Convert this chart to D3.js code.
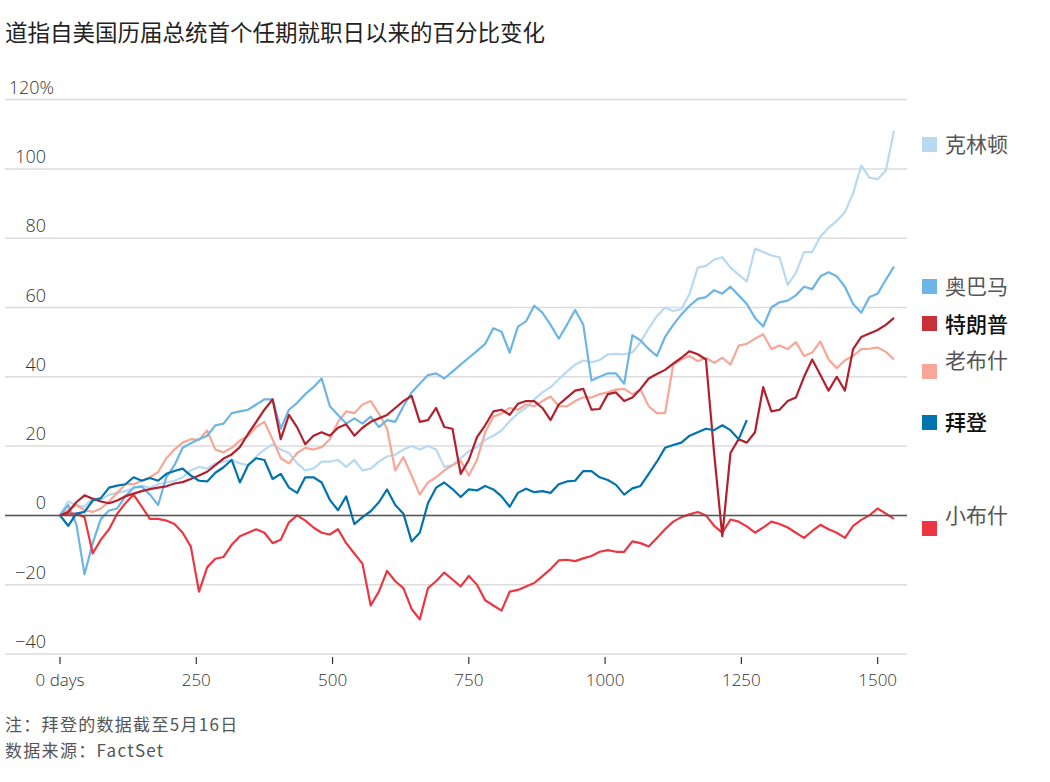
<!DOCTYPE html>
<html>
<head>
<meta charset="utf-8">
<script src="https://cdn.jsdelivr.net/npm/d3@7"></script>
<style>
  body { margin: 0; background: #fff; }
  #viz { width: 1050px; height: 782px; }
  text { font-family: "Open Sans", "Noto Sans CJK SC", sans-serif; }
  .cjk { font-family: "Noto Sans CJK SC", sans-serif; }
</style>
</head>
<body>
<div id="viz"></div>
<script>
// days since inauguration, sampled every 15 days
var days = d3.range(0, 1531, 15);

var yTicks = [-40, -20, 0, 20, 40, 60, 80, 100, 120];
var xTicks = [0, 250, 500, 750, 1000, 1250, 1500];

var clinton = [0, 4, 3, 2.5, 5, 4.5, 6, 6.5, 7, 8,
  8.5, 8, 9, 9.5, 10, 11, 13, 14, 13.5, 15,
  15.5, 16, 15, 14.5, 17, 19, 20.5, 19, 18, 15,
  13, 13.5, 15.5, 15.5, 16, 14, 16, 13, 13.5, 15.5,
  17, 17.5, 19, 20, 19, 20, 19, 14, 14.5, 16.5,
  18.5, 19.7, 21.8, 23, 24.5, 27.2, 29.5, 31, 33.5, 35.5,
  37, 39.3, 41.5, 43.5, 44.7, 44.2, 44.8, 46.5, 46.6, 46.5,
  47, 50, 54, 57.5, 60, 59, 59.5, 64, 71.5, 72,
  73.8, 74.5, 71.5, 69.5, 67.5, 77, 76, 75, 74.5, 66.5,
  70, 76, 76, 80.5, 83, 85, 87.5, 93, 101, 97.5,
  97, 99.5, 111];

var obama = [0, 3, -2.5, -17, -8, -1, 1.4, 2, 5.5, 8,
  8.3, 6, 3, 11, 14.5, 19.5, 20.8, 22, 23, 26,
  26.5, 29.5, 30, 30.5, 32, 33.5, 33.5, 25, 30.5, 32.5,
  35, 37, 39.5, 31.5, 29, 26.5, 28, 26.5, 28.5, 25.5,
  27.5, 27, 31.5, 35.5, 38, 40.5, 41, 39.5, 41.5, 43.5,
  45.5, 47.5, 49.5, 54, 53, 47, 54.5, 56, 60.5, 58.5,
  55, 51, 55, 59.3, 55, 38.9, 40, 41, 41, 38,
  52, 50.5, 48, 46, 51.5, 55, 58, 60.5, 62.5, 63,
  65, 64, 66, 63.5, 61, 57, 54.5, 60, 61.5, 62,
  63.5, 66, 65.3, 69, 70.2, 69, 66, 61, 58.5, 63,
  64, 68, 71.8];

var trump = [0, 1, 3.8, 5.8, 4.8, 4, 3.5, 4.3, 5.5, 6.3,
  7, 7.6, 8, 8.4, 9.2, 9.6, 10.5, 11.5, 12.6, 14.5,
  16.4, 17.6, 19.7, 23.5, 27, 30.5, 33.5, 22, 29, 25.4,
  20.5, 23, 24, 23, 25.3, 26.3, 23, 25.3, 27, 28,
  29, 31, 33, 34.5, 27, 27.5, 31, 25.5, 25, 12,
  16, 22.6, 26, 30, 30.5, 29, 32.2, 33, 33, 31,
  27.5, 32, 34, 36, 36.5, 30.5, 30.7, 35, 35.5, 33,
  34, 36.5, 39.5, 40.8, 42, 43.8, 45.5, 47.4, 46.5, 45,
  18, -6, 18, 22, 21, 24, 37, 30, 30.5, 33,
  34, 40, 45, 40.5, 36, 40, 36, 48, 51.5, 52.5,
  53.5, 55, 57];

var bushSr = [0, 1.5, 3, 1.5, 1, 2, 4, 6.5, 9, 9,
  10, 11, 12.5, 16.5, 19, 21, 22, 21.8, 24.5, 19,
  18.2, 19.5, 21.6, 23, 25.5, 27, 22, 16.5, 15, 18,
  19.5, 19, 19.7, 22, 27, 30, 29.5, 32, 33, 29.4,
  25, 13, 16.8, 11.5, 6, 9.5, 11, 13, 14.5, 15.8,
  11.5, 16, 24, 28.5, 29.4, 31, 30.5, 32, 31.5, 33,
  34.3, 31.5, 31.5, 33, 34.1, 34, 35, 35.5, 36.3, 36.5,
  35, 36.3, 31.5, 29.5, 29.5, 43.5, 45, 46, 44.5, 45.5,
  44, 45.5, 43.5, 49, 49.5, 51, 52.3, 48, 49, 48,
  50, 46, 47, 50.2, 45, 42.5, 44.8, 46, 48, 48.1,
  48.5, 47.2, 45];

var bushJr = [0, 0.5, 0.5, -0.5, -11, -7, -4, 0.5, 3.5, 6,
  2.5, -1, -1, -1.5, -2.5, -5, -9, -22, -15, -12.5,
  -12, -8.5, -6, -5, -4, -5, -8, -7, -2, 0,
  -1.5, -3.5, -5, -5.5, -4, -8, -11, -14, -26, -22,
  -16, -19, -21, -27, -30, -21, -19, -16.5, -18.5, -20.5,
  -17.5, -20, -24.5, -26, -27.5, -22, -21.5, -20.5, -19.5, -17.5,
  -15.5, -13, -12.8, -13.2, -12.4, -11.7, -10.5, -10, -10.5, -10.5,
  -7.5, -8, -9, -6.5, -4, -1.8, -0.5, 0.3, 1, 0,
  -3, -5, -1.2, -1.8, -3.2, -5, -3.5, -1.8, -2.5, -3.5,
  -5, -6.5, -4.5, -2.7, -4, -5, -6.5, -3, -1.3, 0,
  2, 0.5, -1];

var biden = [0, -3, 0.5, 1, 4.3, 5, 8, 8.6, 9, 11,
  10, 10.8, 10, 12, 12.8, 13.5, 11.5, 10, 9.8, 12.3,
  13.9, 16, 9.5, 14.5, 16.5, 16, 10.5, 12, 8, 6.5,
  11, 11, 9.5, 4.5, 1.5, 5.5, -2.5, -0.5, 1.2, 3.8,
  7.5, 3, 0.5, -7.5, -5, 3.5, 8, 9.5, 7.6, 5.3,
  7.5, 7.2, 8.5, 7.5, 5.5, 2.5, 6.5, 7.7, 6.7, 7,
  6.5, 9, 9.8, 10, 12.8, 12.8, 11, 10.2, 8.8, 6,
  7.8, 8.5, 12, 15.5, 19.5, 20.3, 21, 23, 24, 25,
  24.6, 26, 24.6, 22, 27.5];

// drawing order: first is at the back
var series = [
  {name: "克林顿", values: clinton, color: "#b7d9f2"},
  {name: "老布什", values: bushSr, color: "#f6a797"},
  {name: "奥巴马", values: obama, color: "#6cb5e5"},
  {name: "小布什", values: bushJr, color: "#ec3641"},
  {name: "特朗普", values: trump, color: "#b3202d"},
  {name: "拜登", values: biden, color: "#0173ae"}
];

// legend layout (pixel positions of squares and labels)
var legend = [
  {name: "克林顿", color: "#b7d9f2", sq: 137, ty: 152, strong: false},
  {name: "奥巴马", color: "#6cb5e5", sq: 279, ty: 294, strong: false},
  {name: "特朗普", color: "#c9313a", sq: 316, ty: 332, strong: true},
  {name: "老布什", color: "#f6a797", sq: 364, ty: 368, strong: false},
  {name: "拜登", color: "#0173ae", sq: 415, ty: 430, strong: true},
  {name: "小布什", color: "#ec3641", sq: 521, ty: 523, strong: false}
];

var svg = d3.select("#viz").append("svg")
    .attr("width", 1050)
    .attr("height", 782);

var x = d3.scaleLinear()
    .domain([0, 1530])
    .range([60, 894]);

var y = d3.scaleLinear()
    .domain([-40, 120])
    .range([654, 99.6]);

var gridLeft = 5, gridRight = 907;

/* title */
svg.append("text")
    .attr("class", "cjk")
    .attr("x", 5)
    .attr("y", 41)
    .attr("font-size", 22.5)
    .attr("fill", "#222")
    .text("道指自美国历届总统首个任期就职日以来的百分比变化");

/* gridlines + y labels */
var grid = svg.append("g");
grid.selectAll("line")
    .data(yTicks)
    .enter()
    .append("line")
    .attr("x1", gridLeft)
    .attr("x2", gridRight)
    .attr("y1", function(d) { return y(d); })
    .attr("y2", function(d) { return y(d); })
    .attr("stroke", "#dcdcdc")
    .attr("stroke-width", 1.5);

grid.selectAll("text")
    .data(yTicks)
    .enter()
    .append("text")
    .attr("x", function(d) { return d == 120 ? 54 : 46; })
    .attr("y", function(d) { return y(d) - 6; })
    .attr("text-anchor", "end")
    .attr("font-size", 18)
    .attr("font-weight", 300)
    .attr("fill", "#333")
    .text(function(d) {
      if (d == 120) return "120%";
      return d < 0 ? "\u2212" + Math.abs(d) : d;
    });

/* x axis ticks */
var xAxis = svg.append("g");
xAxis.selectAll("line")
    .data(xTicks)
    .enter()
    .append("line")
    .attr("x1", function(d) { return x(d); })
    .attr("x2", function(d) { return x(d); })
    .attr("y1", y(-40) + 3)
    .attr("y2", y(-40) + 10)
    .attr("stroke", "#333")
    .attr("stroke-width", 1.2);

xAxis.selectAll("text")
    .data(xTicks)
    .enter()
    .append("text")
    .attr("x", function(d) { return x(d); })
    .attr("y", 686)
    .attr("text-anchor", "middle")
    .attr("font-size", 17)
    .attr("font-weight", 300)
    .attr("fill", "#333")
    .text(function(d) { return d == 0 ? "0 days" : d; });

/* lines */
var line = d3.line()
    .x(function(d, i) { return x(days[i]); })
    .y(function(d) { return y(d); });

svg.append("g")
    .selectAll("path")
    .data(series)
    .enter()
    .append("path")
    .attr("d", function(s) { return line(s.values); })
    .attr("fill", "none")
    .attr("stroke", function(s) { return s.color; })
    .attr("stroke-width", 2.2)
    .attr("stroke-linejoin", "round");

// zero line drawn over the series
svg.append("line")
    .attr("x1", gridLeft)
    .attr("x2", gridRight)
    .attr("y1", y(0))
    .attr("y2", y(0))
    .attr("stroke", "#555")
    .attr("stroke-width", 1.5);

/* legend */
var leg = svg.append("g");
leg.selectAll("rect")
    .data(legend)
    .enter()
    .append("rect")
    .attr("x", 922)
    .attr("y", function(d) { return d.sq; })
    .attr("width", 15)
    .attr("height", 15)
    .attr("fill", function(d) { return d.color; });

leg.selectAll("text")
    .data(legend)
    .enter()
    .append("text")
    .attr("class", "cjk")
    .attr("x", 945)
    .attr("y", function(d) { return d.ty; })
    .attr("font-size", 21)
    .attr("fill", function(d) { return d.strong ? "#111" : "#555"; })
    .attr("font-weight", function(d) { return d.strong ? 500 : 400; })
    .text(function(d) { return d.name; });

/* notes */
svg.append("text")
    .attr("class", "cjk")
    .attr("x", 5)
    .attr("y", 731)
    .attr("font-size", 17)
    .attr("letter-spacing", 1.3)
    .attr("fill", "#555")
    .text("注：拜登的数据截至5月16日");

svg.append("text")
    .attr("class", "cjk")
    .attr("x", 5)
    .attr("y", 757)
    .attr("font-size", 17)
    .attr("letter-spacing", 1.3)
    .attr("fill", "#555")
    .text("数据来源：FactSet");
</script>
</body>
</html>
